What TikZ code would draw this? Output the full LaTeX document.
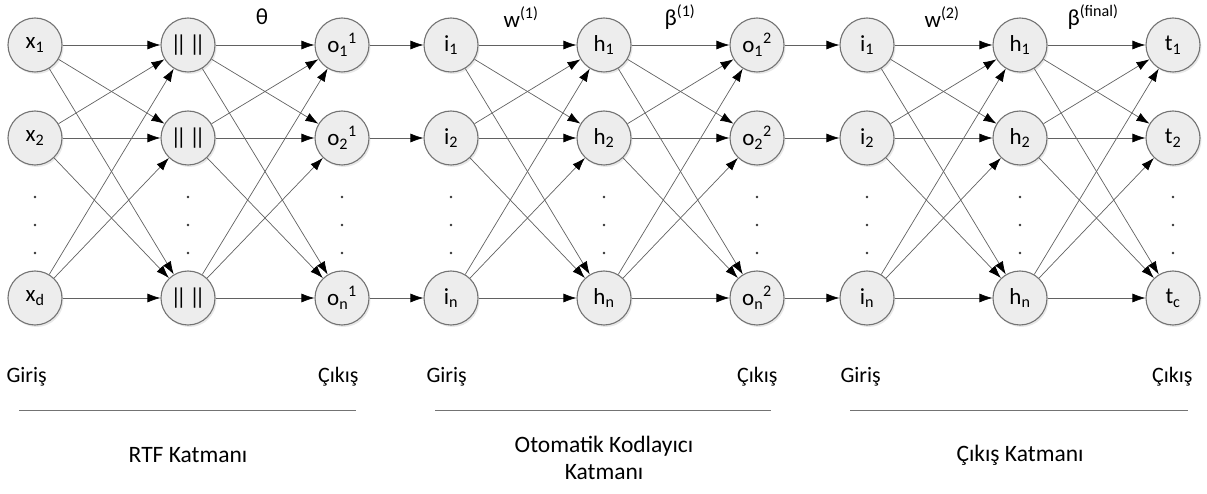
\documentclass[tikz,border=0pt]{standalone}
\usepackage{fontspec}
\setmainfont{Carlito}
\usetikzlibrary{arrows.meta,shadows}

\newcommand{\normbars}{|\kern-.22em|\kern.12em|\kern-.22em|}

\begin{document}
\begin{tikzpicture}[
    x = 1pt,
    y = 1pt,
    >={Latex[length=13pt,width=9pt,color=black]},
    neuron/.style = {
      draw = black!55,
      line width = 1.1pt,
      fill = black!7,
      circle,
      inner sep = 0pt,
      minimum size = 54pt,
      font = \fontsize{23}{27}\selectfont,
      drop shadow = {opacity=0.18, shadow xshift=1.5pt, shadow yshift=-2pt}
    },
    link/.style = {->, draw = black!62, line width = 0.7pt},
    weight/.style = {font = \fontsize{23}{27}\selectfont},
    side/.style = {font = \fontsize{22}{26}\selectfont},
    caption/.style = {font = \fontsize{23.5}{27}\selectfont, align = center},
    rule/.style = {draw = black!55, line width = 1pt}
  ]
\useasboundingbox (0,0) rectangle (1207,493);

% RTF layer
\node[neuron] (x1) at (35,448) {x\textsubscript{1}};
\node[neuron] (x2) at (35,355) {x\textsubscript{2}};
\node[neuron] (xd) at (35,195) {x\textsubscript{d}};
\node[neuron] (n1) at (188,448) {\normbars};
\node[neuron] (n2) at (188,355) {\normbars};
\node[neuron] (nn) at (188,195) {\normbars};
\node[neuron] (oa1) at (342,448) {o\textsubscript{1}\textsuperscript{1}};
\node[neuron] (oa2) at (342,355) {o\textsubscript{2}\textsuperscript{1}};
\node[neuron] (oan) at (342,195) {o\textsubscript{n}\textsuperscript{1}};

% autoencoder layer
\node[neuron] (ia1) at (451,448) {i\textsubscript{1}};
\node[neuron] (ia2) at (451,355) {i\textsubscript{2}};
\node[neuron] (ian) at (451,195) {i\textsubscript{n}};
\node[neuron] (ha1) at (604,448) {h\textsubscript{1}};
\node[neuron] (ha2) at (604,355) {h\textsubscript{2}};
\node[neuron] (han) at (604,195) {h\textsubscript{n}};
\node[neuron] (ob1) at (757,448) {o\textsubscript{1}\textsuperscript{2}};
\node[neuron] (ob2) at (757,355) {o\textsubscript{2}\textsuperscript{2}};
\node[neuron] (obn) at (757,195) {o\textsubscript{n}\textsuperscript{2}};

% output layer
\node[neuron] (ib1) at (867,448) {i\textsubscript{1}};
\node[neuron] (ib2) at (867,355) {i\textsubscript{2}};
\node[neuron] (ibn) at (867,195) {i\textsubscript{n}};
\node[neuron] (hb1) at (1020,448) {h\textsubscript{1}};
\node[neuron] (hb2) at (1020,355) {h\textsubscript{2}};
\node[neuron] (hbn) at (1020,195) {h\textsubscript{n}};
\node[neuron] (t1) at (1173,448) {t\textsubscript{1}};
\node[neuron] (t2) at (1173,355) {t\textsubscript{2}};
\node[neuron] (tc) at (1173,195) {t\textsubscript{c}};

% dots
\foreach \cx in {35,188,342,451,604,757,867,1020,1173}
  \foreach \cy in {296,268,240}
    \fill[black!80] (\cx,\cy) circle (1.3pt);

% connections
\draw[link] (x1) edge (n1) edge (n2) edge (nn);
\draw[link] (x2) edge (n1) edge (n2) edge (nn);
\draw[link] (xd) edge (n1) edge (n2) edge (nn);
\draw[link] (n1) edge (oa1) edge (oa2) edge (oan);
\draw[link] (n2) edge (oa1) edge (oa2) edge (oan);
\draw[link] (nn) edge (oa1) edge (oa2) edge (oan);

\draw[link] (oa1) -- (ia1);
\draw[link] (oa2) -- (ia2);
\draw[link] (oan) -- (ian);

\draw[link] (ia1) edge (ha1) edge (ha2) edge (han);
\draw[link] (ia2) edge (ha1) edge (ha2) edge (han);
\draw[link] (ian) edge (ha1) edge (ha2) edge (han);
\draw[link] (ha1) edge (ob1) edge (ob2) edge (obn);
\draw[link] (ha2) edge (ob1) edge (ob2) edge (obn);
\draw[link] (han) edge (ob1) edge (ob2) edge (obn);

\draw[link] (ob1) -- (ib1);
\draw[link] (ob2) -- (ib2);
\draw[link] (obn) -- (ibn);

\draw[link] (ib1) edge (hb1) edge (hb2) edge (hbn);
\draw[link] (ib2) edge (hb1) edge (hb2) edge (hbn);
\draw[link] (ibn) edge (hb1) edge (hb2) edge (hbn);
\draw[link] (hb1) edge (t1) edge (t2) edge (tc);
\draw[link] (hb2) edge (t1) edge (t2) edge (tc);
\draw[link] (hbn) edge (t1) edge (t2) edge (tc);

% weights
\node[weight] (theta) at (262,476) {θ};
\node[weight] (w1) at (521,476) {w\textsuperscript{(1)}};
\node[weight] (b1) at (680,476) {β\textsuperscript{(1)}};
\node[weight] (w2) at (942,476) {w\textsuperscript{(2)}};
\node[weight] (b2) at (1093,476) {β\textsuperscript{(final)}};

% input / output marks and rules
\node[side,anchor=west] (ginA) at (3,116) {Giriş};
\node[side,anchor=east] (outA) at (362,116) {Çıkış};
\node[side,anchor=west] (ginB) at (423,116) {Giriş};
\node[side,anchor=east] (outB) at (781,116) {Çıkış};
\node[side,anchor=west] (ginC) at (837,116) {Giriş};
\node[side,anchor=east] (outC) at (1196,116) {Çıkış};

\draw[rule] (19,83) -- (356,83);
\draw[rule] (435,83) -- (771,83);
\draw[rule] (850,83) -- (1188,83);

% layer names
\node[caption] (rtf) at (188,38) {RTF Katmanı};
\node[caption] (auto) at (604,35) {Otomatik Kodlayıcı\\Katmanı};
\node[caption] (final) at (1020,38) {Çıkış Katmanı};

\end{tikzpicture}
\end{document}
